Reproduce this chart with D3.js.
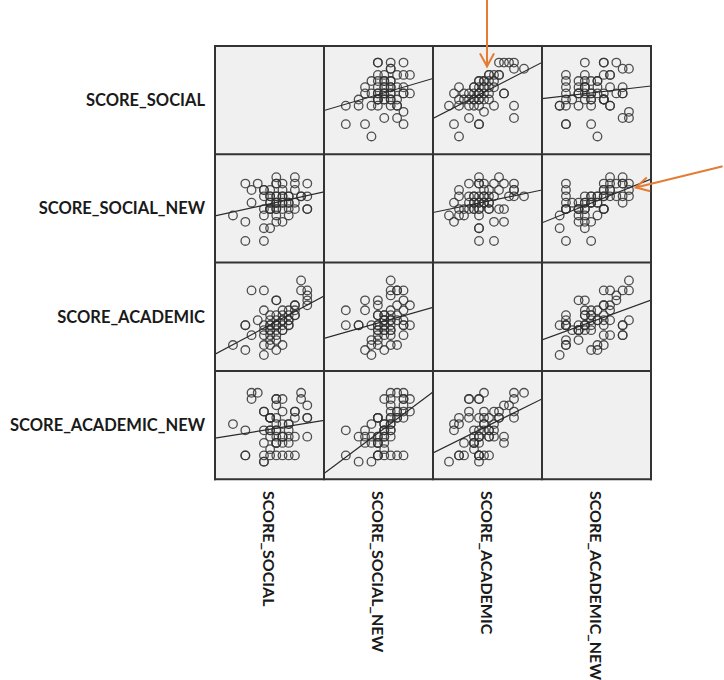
<!DOCTYPE html>
<html>
<head>
<meta charset="utf-8">
<script src="https://cdn.jsdelivr.net/npm/d3@7"></script>
<style>
	html, body { margin: 0; padding: 0; background: #fff; }
	svg { display: block; }
	.label { font-family: Lato, 'Open Sans', sans-serif; font-weight: bold; fill: #1a1a1a; }
</style>
</head>
<body>
<svg id="chart" width="724" height="680"></svg>
<script>

var variables = ['SCORE_SOCIAL', 'SCORE_SOCIAL_NEW', 'SCORE_ACADEMIC', 'SCORE_ACADEMIC_NEW'];

// one value per respondent (score steps)
var scoreSocial      = [2, 4, 7, 10, 12, 3, 5, 6, 7, 8, 10, 3, 5, 6, 7, 8, 9, 10, 11, 6, 7, 8, 9, 5, 6, 7, 8, 9, 10, 12, 0, 2, 5, 7, 9, 8, 7, 5, 6, 2, 5, 12, 12, 11, 7, 6, 7, 8, 6, 7, 8, 9, 6, 7, 9, 10, 6, 7, 8, 5];
var scoreSocialNew   = [9, 9, 10, 10, 9, 8, 8, 8, 9, 9, 9, 6, 7, 7, 7, 7, 7, 8, 7, 6, 6, 6, 6, 5, 5, 5, 5, 5, 5, 5, 4, 3, 4, 4, 4, 3, 3, 2, 2, 0, 0, 7, 5, 7, 9, 6, 6, 6, 7, 7, 8, 6, 5, 5, 7, 6, 5, 6, 7, 8];
var scoreAcademic    = [6, 7, 6, 10, 13, 13, 13, 8, 11, 6, 9, 4, 4, 7, 8, 5, 7, 10, 15, 6, 7, 5, 7, 5, 4, 6, 8, 6, 8, 11, 2, 1, 0, 3, 6, 9, 11, 6, 6, 6, 9, 12, 10, 13, 4, 5, 6, 7, 5, 6, 7, 8, 3, 5, 9, 8, 2, 1, 2, 2];
var scoreAcademicNew = [1, 11, 10, 8, 7, 11, 8, 7, 9, 10, 8, 10, 8, 7, 5, 4, 6, 7, 11, 5, 5, 3, 1, 3, 7, 1, 4, 3, 1, 4, 6, 5, 0, 3, 4, 4, 3, 0, 4, 1, 5, 9, 7, 10, 10, 2, 4, 6, 5, 7, 8, 5, 1, 3, 6, 4, 7, 6, 1, 1];

// value range covered by each panel side
var domains = [[-2.9, 14.7], [-3.4, 13.6], [-3.2, 18.6], [-2.8, 14.5]];

// orange call-outs: target point in a panel and where the arrow comes from
var notes = [
	{ row: 0, col: 2, x: 7.6, y: 11.4, dx: 0, dy: -72 },
	{ row: 1, col: 3, x: 12.1, y: 8.4, dx: 86, dy: -21 }
];

var columns = [scoreSocial, scoreSocialNew, scoreAcademic, scoreAcademicNew];
var n = scoreSocial.length;

var gridX = 215;
var gridY = 46;
var cw = 109;
var ch = 108.3;

var svg = d3.select('#chart');

var sx = domains.map(function(d) { return d3.scaleLinear().domain(d).range([0, cw]); });
var sy = domains.map(function(d) { return d3.scaleLinear().domain(d).range([ch, 0]); });

svg.append('defs').append('clipPath').attr('id', 'cellclip')
	.append('rect').attr('width', cw).attr('height', ch);

var cells = [];
variables.forEach(function(a, r) {
	variables.forEach(function(b, c) {
		cells.push({ row: r, col: c });
	});
});

var cell = svg.selectAll('g.cell').data(cells).enter().append('g')
	.attr('class', 'cell')
	.attr('transform', function(d) { return 'translate(' + (gridX + d.col * cw) + ',' + (gridY + d.row * ch) + ')'; });

cell.append('rect')
	.attr('width', cw)
	.attr('height', ch)
	.style('fill', '#f0f0f0');

cell.filter(function(d) { return d.row !== d.col; }).each(function(d) {
	var g = d3.select(this).append('g').attr('clip-path', 'url(#cellclip)');
	var xs = columns[d.col];
	var ys = columns[d.row];
	var x = sx[d.col];
	var y = sy[d.row];

	g.selectAll('circle').data(d3.range(n)).enter().append('circle')
		.attr('cx', function(i) { return x(xs[i]); })
		.attr('cy', function(i) { return y(ys[i]); })
		.attr('r', 4.3)
		.style('fill', 'none')
		.style('stroke', '#333')
		.style('stroke-opacity', 0.85)
		.style('stroke-width', 1.3);

	// linear fit
	var mx = d3.mean(xs);
	var my = d3.mean(ys);
	var sxy = d3.sum(d3.range(n), function(i) { return (xs[i] - mx) * (ys[i] - my); });
	var sxx = d3.sum(xs, function(v) { return (v - mx) * (v - mx); });
	var slope = sxy / sxx;
	var line = d3.line().x(function(p) { return x(p); }).y(function(p) { return y(my + slope * (p - mx)); });

	g.append('path')
		.datum(domains[d.col])
		.attr('d', line)
		.style('fill', 'none')
		.style('stroke', '#2a2a2a')
		.style('stroke-width', 1.2);
});

// grid borders
var grid = svg.append('g').style('stroke', '#333').style('stroke-width', 2);
d3.range(5).forEach(function(i) {
	grid.append('line').attr('x1', gridX + i * cw).attr('x2', gridX + i * cw).attr('y1', gridY - 1).attr('y2', gridY + 4 * ch + 1);
	grid.append('line').attr('y1', gridY + i * ch).attr('y2', gridY + i * ch).attr('x1', gridX - 1).attr('x2', gridX + 4 * cw + 1);
});

// row labels
svg.selectAll('text.rowlabel').data(variables).enter().append('text')
	.attr('class', 'label rowlabel')
	.attr('x', 205)
	.attr('y', function(d, i) { return gridY + i * ch + ch / 2; })
	.attr('dy', '0.36em')
	.attr('text-anchor', 'end')
	.style('font-size', '16.5px')
	.text(function(d) { return d; });

// column labels, read top to bottom
svg.selectAll('text.collabel').data(variables).enter().append('text')
	.attr('class', 'label collabel')
	.attr('transform', function(d, i) { return 'translate(' + (gridX + i * cw + cw / 2 - 1) + ',' + 491 + ') rotate(90)'; })
	.attr('dy', '0.36em')
	.style('font-size', '16px')
	.text(function(d) { return d; });

// arrows
var orange = '#e57c34';
notes.forEach(function(nt) {
	var tx = gridX + nt.col * cw + sx[nt.col](nt.x);
	var ty = gridY + nt.row * ch + sy[nt.row](nt.y);
	var fx = tx + nt.dx;
	var fy = ty + nt.dy;
	var ang = Math.atan2(fy - ty, fx - tx);
	var len = 14;
	var spread = 0.5;
	var g = svg.append('g').style('stroke', orange).style('stroke-width', 2).style('fill', 'none').style('stroke-linecap', 'round');
	g.append('line').attr('x1', fx).attr('y1', fy).attr('x2', tx).attr('y2', ty);
	g.append('path').attr('d', 'M' + (tx + len * Math.cos(ang - spread)) + ',' + (ty + len * Math.sin(ang - spread)) +
		'L' + tx + ',' + ty + 'L' + (tx + len * Math.cos(ang + spread)) + ',' + (ty + len * Math.sin(ang + spread)));
});

</script>
</body>
</html>
